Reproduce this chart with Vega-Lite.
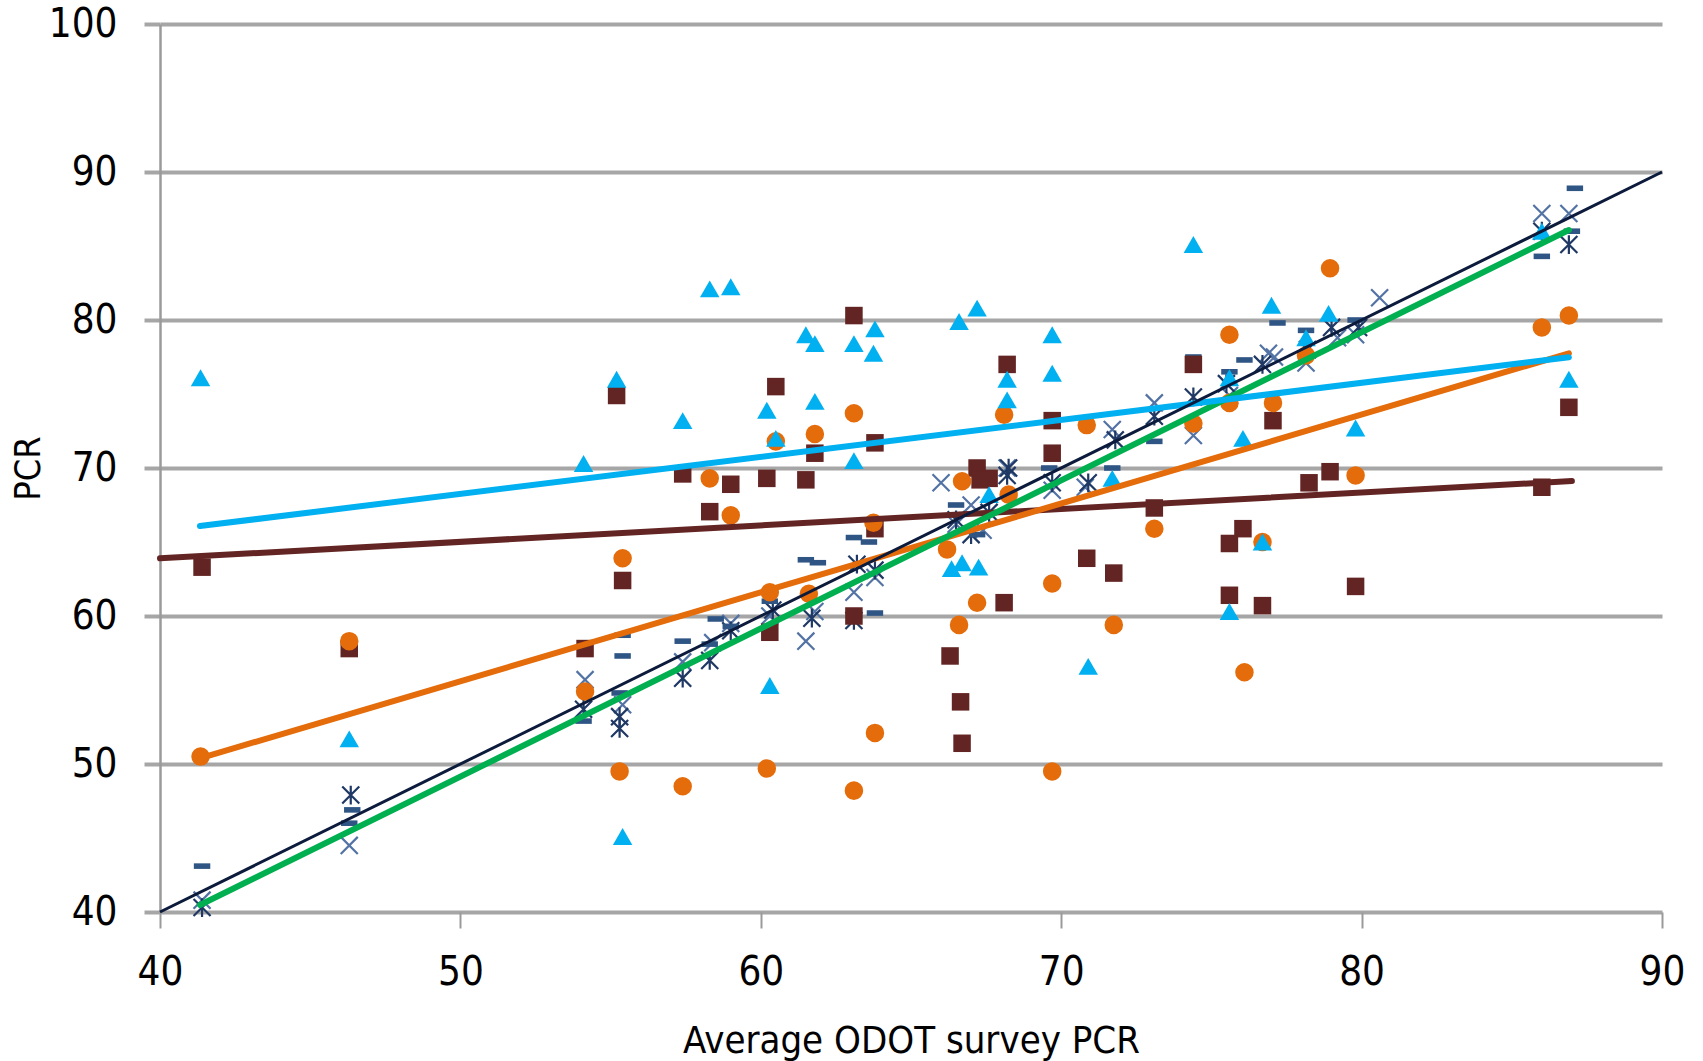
{
  "$schema": "https://vega.github.io/schema/vega-lite/v6.json",
  "width": 1502,
  "height": 888,
  "autosize": "none",
  "padding": {"left": 160, "top": 24, "right": 41, "bottom": 149},
  "background": "white",
  "config": {
    "view": {"stroke": null},
    "font": "Liberation Sans Narrow, DejaVu Sans Condensed, sans-serif"
  },
  "datasets": {
    "pts": [
      {"s": "Dash", "x": 41.4, "y": 43.1}, {"s": "Dash", "x": 46.3, "y": 46.0}, {"s": "Dash", "x": 46.4, "y": 46.9},
      {"s": "Dash", "x": 54.1, "y": 52.9}, {"s": "Dash", "x": 55.3, "y": 54.8}, {"s": "Dash", "x": 55.4, "y": 57.3},
      {"s": "Dash", "x": 55.4, "y": 58.7}, {"s": "Dash", "x": 57.4, "y": 58.3}, {"s": "Dash", "x": 58.5, "y": 59.8},
      {"s": "Dash", "x": 58.3, "y": 58.1}, {"s": "Dash", "x": 59.0, "y": 59.3}, {"s": "Dash", "x": 60.3, "y": 61.0},
      {"s": "Dash", "x": 61.5, "y": 63.8}, {"s": "Dash", "x": 61.9, "y": 63.6}, {"s": "Dash", "x": 63.1, "y": 65.3},
      {"s": "Dash", "x": 63.6, "y": 65.0}, {"s": "Dash", "x": 63.8, "y": 60.2}, {"s": "Dash", "x": 66.5, "y": 67.5},
      {"s": "Dash", "x": 67.2, "y": 65.5}, {"s": "Dash", "x": 69.6, "y": 70.0}, {"s": "Dash", "x": 71.7, "y": 70.0},
      {"s": "Dash", "x": 73.1, "y": 71.8}, {"s": "Dash", "x": 74.4, "y": 77.5}, {"s": "Dash", "x": 75.6, "y": 76.5},
      {"s": "Dash", "x": 76.1, "y": 77.3}, {"s": "Dash", "x": 77.2, "y": 79.8}, {"s": "Dash", "x": 78.15, "y": 79.3},
      {"s": "Dash", "x": 79.8, "y": 80.0}, {"s": "Dash", "x": 86.0, "y": 84.3}, {"s": "Dash", "x": 87.0, "y": 86.0},
      {"s": "Dash", "x": 87.1, "y": 88.9},

      {"s": "X", "x": 41.4, "y": 40.8}, {"s": "X", "x": 46.3, "y": 44.5}, {"s": "X", "x": 54.15, "y": 55.7},
      {"s": "X", "x": 55.4, "y": 54.0}, {"s": "X", "x": 57.4, "y": 56.9}, {"s": "X", "x": 58.4, "y": 58.2},
      {"s": "X", "x": 59.0, "y": 59.5}, {"s": "X", "x": 60.3, "y": 60.0}, {"s": "X", "x": 61.5, "y": 58.3},
      {"s": "X", "x": 61.8, "y": 60.3}, {"s": "X", "x": 63.1, "y": 61.6}, {"s": "X", "x": 63.8, "y": 62.6},
      {"s": "X", "x": 66.0, "y": 69.0}, {"s": "X", "x": 66.5, "y": 66.2}, {"s": "X", "x": 67.0, "y": 67.5},
      {"s": "X", "x": 67.4, "y": 65.8}, {"s": "X", "x": 68.2, "y": 70.0}, {"s": "X", "x": 69.7, "y": 68.5},
      {"s": "X", "x": 70.8, "y": 68.7}, {"s": "X", "x": 71.7, "y": 72.6}, {"s": "X", "x": 73.1, "y": 74.4},
      {"s": "X", "x": 74.4, "y": 72.2}, {"s": "X", "x": 75.6, "y": 74.9}, {"s": "X", "x": 76.9, "y": 77.75},
      {"s": "X", "x": 77.1, "y": 77.5}, {"s": "X", "x": 78.15, "y": 77.1}, {"s": "X", "x": 79.2, "y": 78.8},
      {"s": "X", "x": 79.8, "y": 79.0}, {"s": "X", "x": 80.6, "y": 81.5}, {"s": "X", "x": 86.0, "y": 87.2},
      {"s": "X", "x": 86.9, "y": 87.2},

      {"s": "Ast", "x": 41.4, "y": 40.3}, {"s": "Ast", "x": 46.35, "y": 47.9}, {"s": "Ast", "x": 54.1, "y": 53.7},
      {"s": "Ast", "x": 55.3, "y": 52.4}, {"s": "Ast", "x": 55.3, "y": 53.2}, {"s": "Ast", "x": 57.4, "y": 55.8},
      {"s": "Ast", "x": 58.3, "y": 57.0}, {"s": "Ast", "x": 59.0, "y": 59.0}, {"s": "Ast", "x": 60.4, "y": 60.4},
      {"s": "Ast", "x": 61.7, "y": 59.85}, {"s": "Ast", "x": 63.1, "y": 59.7}, {"s": "Ast", "x": 63.2, "y": 63.5},
      {"s": "Ast", "x": 63.8, "y": 63.1}, {"s": "Ast", "x": 66.5, "y": 66.5}, {"s": "Ast", "x": 67.0, "y": 65.5},
      {"s": "Ast", "x": 67.6, "y": 67.0}, {"s": "Ast", "x": 68.2, "y": 69.5}, {"s": "Ast", "x": 68.25, "y": 70.0},
      {"s": "Ast", "x": 69.7, "y": 69.0}, {"s": "Ast", "x": 70.9, "y": 69.0}, {"s": "Ast", "x": 71.8, "y": 71.9},
      {"s": "Ast", "x": 73.1, "y": 73.5}, {"s": "Ast", "x": 74.4, "y": 74.8}, {"s": "Ast", "x": 75.5, "y": 75.7},
      {"s": "Ast", "x": 76.7, "y": 77.0}, {"s": "Ast", "x": 78.2, "y": 78.0}, {"s": "Ast", "x": 79.0, "y": 79.5},
      {"s": "Ast", "x": 79.9, "y": 79.5}, {"s": "Ast", "x": 86.0, "y": 86.0}, {"s": "Ast", "x": 86.9, "y": 85.1},

      {"s": "Sq", "x": 41.4, "y": 63.3}, {"s": "Sq", "x": 46.3, "y": 57.8}, {"s": "Sq", "x": 54.15, "y": 57.8},
      {"s": "Sq", "x": 55.2, "y": 74.9}, {"s": "Sq", "x": 55.4, "y": 62.4}, {"s": "Sq", "x": 57.4, "y": 69.6},
      {"s": "Sq", "x": 58.3, "y": 67.05}, {"s": "Sq", "x": 59.0, "y": 68.9}, {"s": "Sq", "x": 60.2, "y": 69.3},
      {"s": "Sq", "x": 60.3, "y": 58.9}, {"s": "Sq", "x": 60.5, "y": 75.5}, {"s": "Sq", "x": 61.5, "y": 69.2},
      {"s": "Sq", "x": 61.8, "y": 71.0}, {"s": "Sq", "x": 63.1, "y": 80.3}, {"s": "Sq", "x": 63.1, "y": 60.0},
      {"s": "Sq", "x": 63.8, "y": 71.7}, {"s": "Sq", "x": 63.8, "y": 65.9}, {"s": "Sq", "x": 66.3, "y": 57.3},
      {"s": "Sq", "x": 66.65, "y": 54.2}, {"s": "Sq", "x": 66.7, "y": 51.4}, {"s": "Sq", "x": 67.2, "y": 70.0},
      {"s": "Sq", "x": 67.6, "y": 69.3}, {"s": "Sq", "x": 67.3, "y": 69.2}, {"s": "Sq", "x": 68.2, "y": 77.0},
      {"s": "Sq", "x": 68.1, "y": 60.9}, {"s": "Sq", "x": 69.7, "y": 73.2}, {"s": "Sq", "x": 69.7, "y": 71.0},
      {"s": "Sq", "x": 70.85, "y": 63.9}, {"s": "Sq", "x": 71.75, "y": 62.9}, {"s": "Sq", "x": 73.1, "y": 67.3},
      {"s": "Sq", "x": 74.4, "y": 77.0}, {"s": "Sq", "x": 75.6, "y": 64.9}, {"s": "Sq", "x": 75.6, "y": 61.4},
      {"s": "Sq", "x": 76.05, "y": 65.9}, {"s": "Sq", "x": 76.7, "y": 60.7}, {"s": "Sq", "x": 77.05, "y": 73.2},
      {"s": "Sq", "x": 78.25, "y": 69.0}, {"s": "Sq", "x": 78.95, "y": 69.75}, {"s": "Sq", "x": 79.8, "y": 62.0},
      {"s": "Sq", "x": 86.0, "y": 68.7}, {"s": "Sq", "x": 86.9, "y": 74.1},

      {"s": "Circ", "x": 41.35, "y": 50.5}, {"s": "Circ", "x": 46.3, "y": 58.3}, {"s": "Circ", "x": 54.15, "y": 54.9},
      {"s": "Circ", "x": 55.4, "y": 63.9}, {"s": "Circ", "x": 55.3, "y": 49.5}, {"s": "Circ", "x": 57.4, "y": 48.5},
      {"s": "Circ", "x": 58.3, "y": 69.3}, {"s": "Circ", "x": 59.0, "y": 66.8}, {"s": "Circ", "x": 60.3, "y": 61.6},
      {"s": "Circ", "x": 60.2, "y": 49.7}, {"s": "Circ", "x": 60.5, "y": 71.8}, {"s": "Circ", "x": 61.6, "y": 61.5},
      {"s": "Circ", "x": 61.8, "y": 72.3}, {"s": "Circ", "x": 63.1, "y": 73.7}, {"s": "Circ", "x": 63.1, "y": 48.2},
      {"s": "Circ", "x": 63.8, "y": 52.1}, {"s": "Circ", "x": 63.75, "y": 66.3}, {"s": "Circ", "x": 66.2, "y": 64.5},
      {"s": "Circ", "x": 66.6, "y": 59.4}, {"s": "Circ", "x": 66.7, "y": 69.1}, {"s": "Circ", "x": 67.2, "y": 60.9},
      {"s": "Circ", "x": 68.1, "y": 73.6}, {"s": "Circ", "x": 68.25, "y": 68.2}, {"s": "Circ", "x": 69.7, "y": 62.2},
      {"s": "Circ", "x": 69.7, "y": 49.5}, {"s": "Circ", "x": 70.85, "y": 72.9}, {"s": "Circ", "x": 71.75, "y": 59.4},
      {"s": "Circ", "x": 73.1, "y": 65.9}, {"s": "Circ", "x": 74.4, "y": 73.0}, {"s": "Circ", "x": 75.6, "y": 79.0},
      {"s": "Circ", "x": 75.6, "y": 74.4}, {"s": "Circ", "x": 76.1, "y": 56.2}, {"s": "Circ", "x": 76.7, "y": 65.0},
      {"s": "Circ", "x": 77.05, "y": 74.4}, {"s": "Circ", "x": 78.15, "y": 77.6}, {"s": "Circ", "x": 78.95, "y": 83.5},
      {"s": "Circ", "x": 79.8, "y": 69.5}, {"s": "Circ", "x": 86.0, "y": 79.5}, {"s": "Circ", "x": 86.9, "y": 80.3},

      {"s": "Tri", "x": 41.35, "y": 76.1}, {"s": "Tri", "x": 46.3, "y": 51.7}, {"s": "Tri", "x": 54.1, "y": 70.3},
      {"s": "Tri", "x": 55.2, "y": 76.0}, {"s": "Tri", "x": 55.4, "y": 45.1}, {"s": "Tri", "x": 57.4, "y": 73.2},
      {"s": "Tri", "x": 58.3, "y": 82.1}, {"s": "Tri", "x": 59.0, "y": 82.25}, {"s": "Tri", "x": 60.2, "y": 73.9},
      {"s": "Tri", "x": 60.3, "y": 55.3}, {"s": "Tri", "x": 60.5, "y": 72.0}, {"s": "Tri", "x": 61.5, "y": 79.0},
      {"s": "Tri", "x": 61.8, "y": 78.4}, {"s": "Tri", "x": 61.8, "y": 74.5}, {"s": "Tri", "x": 63.1, "y": 78.4},
      {"s": "Tri", "x": 63.1, "y": 70.5}, {"s": "Tri", "x": 63.8, "y": 79.4}, {"s": "Tri", "x": 63.75, "y": 77.75},
      {"s": "Tri", "x": 66.35, "y": 63.2}, {"s": "Tri", "x": 66.6, "y": 79.9}, {"s": "Tri", "x": 66.7, "y": 63.6},
      {"s": "Tri", "x": 67.2, "y": 80.8}, {"s": "Tri", "x": 67.25, "y": 63.3}, {"s": "Tri", "x": 67.6, "y": 68.2},
      {"s": "Tri", "x": 68.2, "y": 76.0}, {"s": "Tri", "x": 68.2, "y": 74.6}, {"s": "Tri", "x": 69.7, "y": 79.0},
      {"s": "Tri", "x": 69.7, "y": 76.4}, {"s": "Tri", "x": 70.9, "y": 56.6}, {"s": "Tri", "x": 71.7, "y": 69.3},
      {"s": "Tri", "x": 74.4, "y": 85.1}, {"s": "Tri", "x": 75.6, "y": 60.3}, {"s": "Tri", "x": 75.6, "y": 76.1},
      {"s": "Tri", "x": 76.05, "y": 72.0}, {"s": "Tri", "x": 76.7, "y": 65.0}, {"s": "Tri", "x": 77.0, "y": 81.0},
      {"s": "Tri", "x": 78.15, "y": 78.8}, {"s": "Tri", "x": 78.9, "y": 80.45}, {"s": "Tri", "x": 79.8, "y": 72.7},
      {"s": "Tri", "x": 86.0, "y": 86.0}, {"s": "Tri", "x": 86.9, "y": 76.0}
    ],
    "lines": [
      {"s": "Sq", "x": 40.0, "y": 63.9}, {"s": "Sq", "x": 87.0, "y": 69.12},
      {"s": "Circ", "x": 41.35, "y": 50.4}, {"s": "Circ", "x": 86.9, "y": 77.75},
      {"s": "Fit", "x": 41.33, "y": 40.47}, {"s": "Fit", "x": 86.9, "y": 86.08},
      {"s": "Tri", "x": 41.33, "y": 66.08}, {"s": "Tri", "x": 86.9, "y": 77.48},
      {"s": "Equal", "x": 40.0, "y": 40.0}, {"s": "Equal", "x": 90.0, "y": 90.0}
    ]
  },
  "layer": [
    {
      "data": {"name": "pts"},
      "transform": [{"filter": "datum.s === 'X' || datum.s === 'Ast'"}],
      "mark": {"type": "point", "filled": false, "strokeWidth": 2.2, "size": 290, "opacity": 1},
      "encoding": {
        "x": {"field": "x", "type": "quantitative",
              "scale": {"domain": [40, 90], "nice": false, "zero": false},
              "axis": {"values": [40, 50, 60, 70, 80, 90], "grid": false, "domain": false,
                       "ticks": true, "tickSize": 16, "tickWidth": 2, "tickColor": "#9a9a9a",
                       "labelFontSize": 40, "labelColor": "#000", "labelPadding": 24, "labelFlush": false,
                       "title": "Average ODOT survey PCR", "titleFontSize": 38, "titleFontWeight": "normal",
                       "titleColor": "#000", "titlePadding": 30}},
        "y": {"field": "y", "type": "quantitative",
              "scale": {"domain": [40, 100], "nice": false, "zero": false},
              "axis": {"values": [40, 50, 60, 70, 80, 90, 100], "grid": true, "gridColor": "#a6a6a6",
                       "gridWidth": 4, "gridOpacity": 1, "domain": true, "domainColor": "#9a9a9a",
                       "domainWidth": 2.5, "ticks": true, "tickSize": 16, "tickWidth": 4,
                       "tickColor": "#a6a6a6", "labelFontSize": 40, "labelColor": "#000",
                       "labelPadding": 27, "labelFlush": false, "title": "PCR", "titleFontSize": 36,
                       "titleFontWeight": "normal", "titleColor": "#000", "titlePadding": 1}},
        "shape": {"field": "s", "type": "nominal", "legend": null,
                  "scale": {"domain": ["X", "Ast"],
                            "range": ["M-1,-1L1,1M-1,1L1,-1", "M-1,-1L1,1M-1,1L1,-1M0,-1.1L0,1.1"]}},
        "stroke": {"field": "s", "type": "nominal", "legend": null,
                   "scale": {"domain": ["X", "Ast"], "range": ["#5373a5", "#1f3864"]}}
      }
    },
    {
      "data": {"name": "pts"},
      "transform": [{"filter": "datum.s !== 'X' && datum.s !== 'Ast'"}],
      "mark": {"type": "point", "filled": true, "opacity": 1, "strokeWidth": 0},
      "encoding": {
        "x": {"field": "x", "type": "quantitative"},
        "y": {"field": "y", "type": "quantitative"},
        "shape": {"field": "s", "type": "nominal", "legend": null,
                  "scale": {"domain": ["Dash", "Sq", "Circ", "Tri"],
                            "range": ["M-1,-0.34H1V0.34H-1Z", "square", "circle", "triangle-up"]}},
        "fill": {"field": "s", "type": "nominal", "legend": null,
                 "scale": {"domain": ["Dash", "Sq", "Circ", "Tri"],
                           "range": ["#2f5585", "#632523", "#e46c0a", "#00b0f0"]}},
        "size": {"field": "s", "type": "nominal", "legend": null,
                 "scale": {"domain": ["Dash", "Sq", "Circ", "Tri"], "range": [270, 380, 400, 430]}}
      }
    },
    {
      "data": {"name": "lines"},
      "transform": [{"filter": "datum.s !== 'Equal'"}],
      "mark": {"type": "line", "strokeWidth": 6, "strokeCap": "round"},
      "encoding": {
        "x": {"field": "x", "type": "quantitative"},
        "y": {"field": "y", "type": "quantitative"},
        "detail": {"field": "s", "type": "nominal"},
        "stroke": {"field": "s", "type": "nominal", "legend": null,
                   "scale": {"domain": ["Sq", "Circ", "Fit", "Tri"],
                             "range": ["#632523", "#e46c0a", "#00b050", "#00b0f0"]}}
      }
    },
    {
      "data": {"name": "lines"},
      "transform": [{"filter": "datum.s === 'Equal'"}],
      "mark": {"type": "line", "strokeWidth": 3, "color": "#0c1a3c"},
      "encoding": {
        "x": {"field": "x", "type": "quantitative"},
        "y": {"field": "y", "type": "quantitative"}
      }
    }
  ],
  "resolve": {"scale": {"shape": "independent", "size": "independent", "stroke": "independent", "fill": "independent"}}
}
